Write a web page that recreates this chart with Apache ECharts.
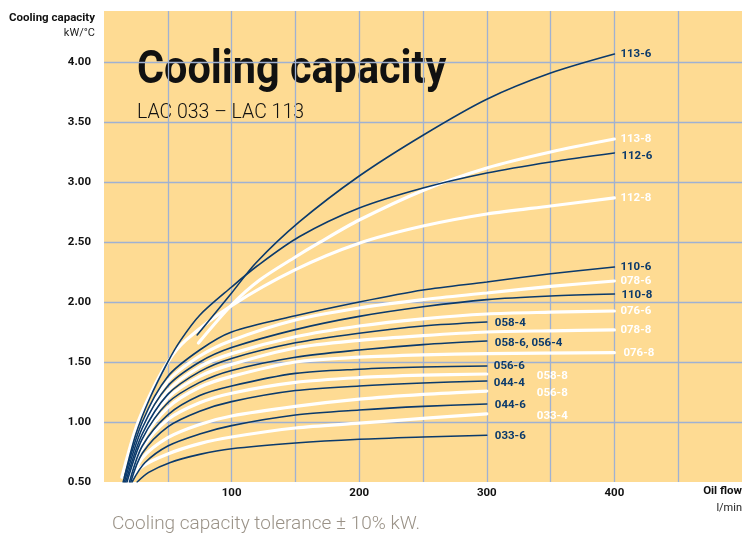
<!DOCTYPE html>
<html><head><meta charset="utf-8">
<script src="https://cdn.jsdelivr.net/npm/echarts@6/dist/echarts.min.js"></script>
<style>html,body{margin:0;padding:0;background:#fff}#c{width:745px;height:536px}</style>
</head><body><div id="c"></div>
<script>
// ---- data (oil flow l/min, cooling capacity kW/°C) ----
const xTickLabels = [100, 200, 300, 400];
const yTickLabels = [0.5, 1.0, 1.5, 2.0, 2.5, 3.0, 3.5, 4.0];

const c113_6 = [[73,1.725],[100,2.075],[119,2.325],[153,2.667],[200,3.05],[250,3.39],[300,3.69],[350,3.908],[400,4.067]];
const c113_8 = [[74,1.658],[100,1.975],[122,2.183],[150,2.375],[168,2.49],[200,2.683],[250,2.93],[300,3.117],[350,3.25],[400,3.358]];
const c112_6 = [[16,0.54],[25,0.9],[36,1.2],[50,1.5],[60,1.68],[75,1.89],[100,2.125],[120,2.3],[153,2.544],[200,2.783],[250,2.95],[300,3.075],[350,3.167],[400,3.242]];
const c112_8 = [[14,0.54],[25,0.95],[36,1.225],[50,1.5],[64,1.68],[100,1.97],[150,2.27],[200,2.49],[250,2.633],[300,2.733],[350,2.8],[400,2.867]];
const c110_6 = [[15,0.5],[30,1.0],[50,1.38],[75,1.6],[100,1.75],[150,1.885],[200,2.0],[250,2.1],[300,2.167],[350,2.235],[400,2.292]];
const c078_6 = [[16,0.5],[30,0.98],[50,1.34],[75,1.55],[100,1.68],[150,1.85],[200,1.95],[250,2.02],[300,2.075],[350,2.13],[400,2.175]];
const c110_8 = [[16,0.5],[30,0.95],[50,1.3],[75,1.5],[100,1.62],[150,1.77],[200,1.88],[250,1.96],[300,2.02],[350,2.05],[400,2.067]];
const c076_6 = [[17,0.5],[30,0.92],[50,1.26],[75,1.46],[100,1.57],[150,1.71],[200,1.8],[250,1.86],[300,1.9],[350,1.915],[400,1.925]];
const c078_8 = [[18,0.5],[30,0.88],[50,1.2],[75,1.38],[100,1.48],[150,1.617],[200,1.68],[250,1.72],[300,1.75],[350,1.76],[400,1.767]];
const c076_8 = [[19,0.5],[30,0.84],[50,1.12],[75,1.29],[100,1.38],[150,1.5],[200,1.54],[250,1.56],[300,1.57],[400,1.578]];
const c058_4 = [[17,0.5],[30,0.9],[50,1.23],[75,1.42],[100,1.53],[150,1.66],[200,1.74],[250,1.8],[300,1.833]];
const c058_6 = [[18,0.5],[30,0.86],[50,1.16],[75,1.33],[100,1.43],[150,1.54],[200,1.6],[250,1.645],[300,1.675]];
const c056_6 = [[20,0.5],[30,0.8],[50,1.06],[75,1.22],[100,1.3],[150,1.405],[200,1.44],[250,1.458],[300,1.467]];
const c058_8 = [[20,0.5],[30,0.78],[50,1.02],[75,1.16],[100,1.24],[150,1.33],[200,1.37],[250,1.39],[300,1.40]];
const c044_4 = [[21,0.5],[30,0.74],[50,0.96],[75,1.09],[100,1.17],[150,1.262],[200,1.3],[250,1.325],[300,1.342]];
const c056_8 = [[21,0.5],[30,0.7],[50,0.87],[75,0.98],[100,1.05],[150,1.13],[200,1.19],[250,1.23],[300,1.258]];
const c044_6 = [[22,0.5],[32,0.66],[50,0.8],[75,0.9],[100,0.97],[150,1.058],[200,1.1],[250,1.13],[300,1.15]];
const c033_4 = [[19,0.5],[30,0.63],[50,0.734],[75,0.82],[100,0.875],[150,0.95],[200,0.99],[250,1.03],[300,1.067]];
const c033_6 = [[26,0.5],[35,0.58],[52,0.663],[75,0.73],[100,0.777],[150,0.825],[200,0.856],[250,0.875],[300,0.89]];

// ---- presentation ----
const NAVY = '#0b3a6b';
const curves = [
  // name, data, kind ('w' white / 'd' dark), label offset [dx,dy]
  ['113-8', c113_8, 'w', [0,0]],
  ['112-8', c112_8, 'w', [0,0]],
  ['078-6', c078_6, 'w', [0,0]],
  ['076-6', c076_6, 'w', [0,0]],
  ['078-8', c078_8, 'w', [0,0]],
  ['076-8', c076_8, 'w', [3,0]],
  ['058-8', c058_8, 'w', [44,2]],
  ['056-8', c056_8, 'w', [44,2]],
  ['033-4', c033_4, 'w', [44,2]],
  ['113-6', c113_6, 'd', [0,0]],
  ['112-6', c112_6, 'd', [1,3]],
  ['110-6', c110_6, 'd', [0,0]],
  ['110-8', c110_8, 'd', [1,1]],
  ['058-4', c058_4, 'd', [2,1]],
  ['058-6, 056-4', c058_6, 'd', [2,2]],
  ['056-6', c056_6, 'd', [1,0]],
  ['044-4', c044_4, 'd', [1,2]],
  ['044-6', c044_6, 'd', [2,1]],
  ['033-6', c033_6, 'd', [2,1]]
];

const FONT = 'Roboto, "DejaVu Sans", sans-serif';

const series = curves.map(([name, data, kind, off]) => ({
  name, type: 'line', data,
  smooth: 0.3,
  showSymbol: false, symbol: 'none', silent: true,
  z: kind === 'd' ? 3 : 2,
  lineStyle: { color: kind === 'd' ? NAVY : '#ffffff', width: kind === 'd' ? 1.6 : 3.2, cap: 'round' },
  endLabel: {
    show: true, formatter: name, distance: 6, offset: off,
    color: kind === 'd' ? NAVY : '#ffffff',
    fontFamily: FONT, fontWeight: 'bold', fontSize: 11.5
  }
}));

const chart = echarts.init(document.getElementById('c'), null, { renderer: 'canvas' });
chart.setOption({
  animation: false,
  backgroundColor: '#ffffff',
  grid: { left: 104, right: 0, top: 11, bottom: 54, show: true, backgroundColor: '#fedb93', borderWidth: 0 },
  xAxis: {
    type: 'value', min: 0, max: 500, interval: 50,
    axisLine: { show: false }, axisTick: { show: false },
    splitLine: { show: true, showMinLine: false, showMaxLine: false, lineStyle: { color: '#9fb1d2', width: 1.3 } },
    axisLabel: {
      margin: 5, color: '#111', fontFamily: FONT, fontWeight: 'bold', fontSize: 11.5,
      formatter: v => xTickLabels.indexOf(v) >= 0 ? String(v) : ''
    }
  },
  yAxis: {
    type: 'value', min: 0.5, max: 4.425, interval: 0.5,
    axisLine: { show: false }, axisTick: { show: false },
    splitLine: { show: true, showMinLine: false, showMaxLine: false, lineStyle: { color: '#9fb1d2', width: 1.3 } },
    axisLabel: {
      margin: 13, color: '#111', fontFamily: FONT, fontWeight: 'bold', fontSize: 11.5,
      formatter: v => yTickLabels.some(t => Math.abs(t - v) < 1e-9) ? v.toFixed(2) : ''
    }
  },
  graphic: [
    { type: 'text', x: 95, y: 18, style: { text: 'Cooling capacity', align: 'right', verticalAlign: 'middle', fill: '#111', font: 'bold 11.5px ' + FONT } },
    { type: 'text', x: 95, y: 33, style: { text: 'kW/°C', align: 'right', verticalAlign: 'middle', fill: '#222', font: '11px ' + FONT } },
    { type: 'text', x: 137, y: 71, scaleX: 0.9, originX: 0, originY: 0, style: { text: 'Cooling capacity', align: 'left', verticalAlign: 'middle', fill: '#111', font: 'bold 46px ' + FONT } },
    { type: 'text', x: 137, y: 113, style: { text: 'LAC 033 – LAC 113', align: 'left', verticalAlign: 'middle', fill: '#111', font: '300 19.5px ' + FONT } },
    { type: 'text', x: 742, y: 491, style: { text: 'Oil flow', align: 'right', verticalAlign: 'middle', fill: '#111', font: 'bold 11.5px ' + FONT } },
    { type: 'text', x: 742, y: 508, style: { text: 'l/min', align: 'right', verticalAlign: 'middle', fill: '#222', font: '11px ' + FONT } },
    { type: 'text', x: 112, y: 524, style: { text: 'Cooling capacity tolerance ± 10% kW.', align: 'left', verticalAlign: 'middle', fill: '#9a9287', font: '300 19px ' + FONT } }
  ],
  series
});
</script></body></html>
